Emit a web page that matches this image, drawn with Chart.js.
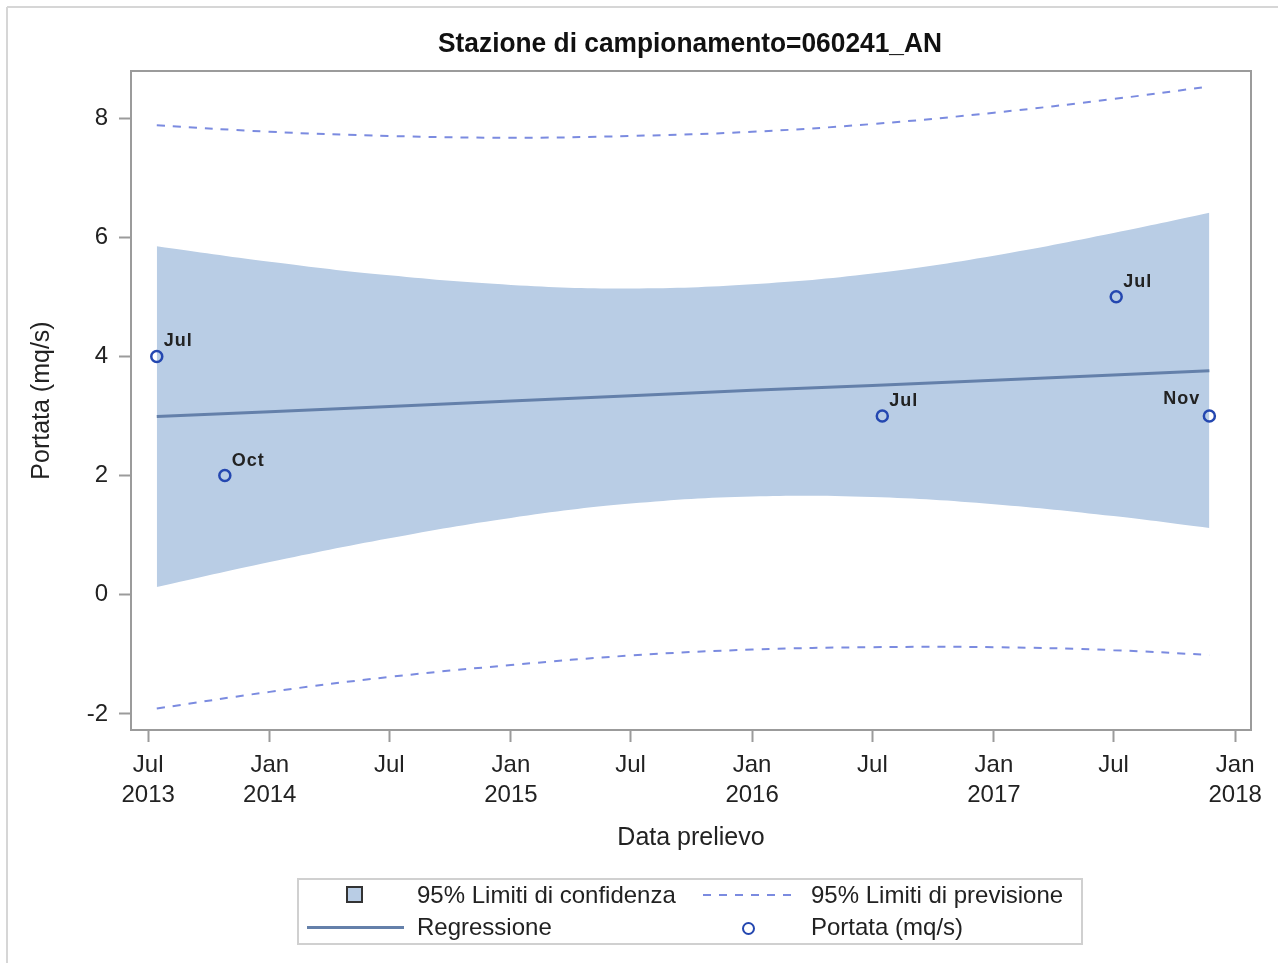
<!DOCTYPE html>
<html>
<head>
<meta charset="utf-8">
<title>Stazione di campionamento=060241_AN</title>
<script src="https://cdn.jsdelivr.net/npm/chart.js@4.4.1/dist/chart.umd.min.js"></script>
<style>
  body { margin: 0; background: #fff; font-family: 'Liberation Sans', Arial, sans-serif; color: #222; }
  #wrap { position: relative; width: 1278px; height: 963px; overflow: hidden; }
  canvas { position: absolute; left: 0; top: 0; }
  .abs { position: absolute; }
  .frame-top { left: 7px; top: 6px; width: 1271px; height: 2px; background: #d6d6d6; }
  .frame-left { left: 6px; top: 7px; width: 2px; height: 956px; background: #d6d6d6; }
  #title { left: 190px; top: 25px; width: 1000px; height: 36px; line-height: 36px; text-align: center;
           font-family: 'Liberation Sans', Arial, sans-serif;
           font-weight: bold; font-size: 28px; color: #111;
           transform: scaleX(0.94); transform-origin: 500px 50%; }
  #legend { left: 297px; top: 878px; width: 786px; height: 67px; border: 2px solid #d0d0d0; box-sizing: border-box; }
  .ltxt { font-size: 24px; height: 30px; line-height: 30px; white-space: nowrap; color: #222; }
</style>
</head>
<body>
<div id="wrap">
  <canvas id="myChart" width="1278" height="963"></canvas>
  <div class="abs frame-top"></div>
  <div class="abs frame-left"></div>
  <div class="abs" id="title">Stazione di campionamento=060241_AN</div>

  <div class="abs" id="legend"></div>
  <div class="abs" style="left:346px;top:886px;width:17px;height:17px;background:#b9cde5;border:2px solid #333;box-sizing:border-box;"></div>
  <div class="abs ltxt" style="left:417px;top:880px;">95% Limiti di confidenza</div>
  <div class="abs" style="left:703px;top:894px;width:90px;height:2px;background:repeating-linear-gradient(to right,#7b8be0 0 8px,transparent 8px 16px);"></div>
  <div class="abs ltxt" style="left:811px;top:880px;">95% Limiti di previsione</div>
  <div class="abs" style="left:307px;top:926px;width:97px;height:3px;background:#6480aa;"></div>
  <div class="abs ltxt" style="left:417px;top:912px;">Regressione</div>
  <div class="abs" style="left:742px;top:922px;width:13px;height:13px;border:2.5px solid #2447b0;border-radius:50%;box-sizing:border-box;"></div>
  <div class="abs ltxt" style="left:811px;top:912px;">Portata (mq/s)</div>
</div>

<script>
/* data */

const obsDates = ['2013-07-14', '2013-10-25', '2016-07-16', '2017-07-05', '2017-11-23'];
const obsValues = [4, 2, 3, 5, 3];
const obsLabels = ['Jul', 'Oct', 'Jul', 'Jul', 'Nov'];

const fitDates = ['2013-07-14', '2014-01-01', '2014-07-01', '2015-01-01', '2015-07-01',
  '2016-01-01', '2016-07-01', '2017-01-01', '2017-07-01', '2017-11-23'];
const fitValues = [2.99, 3.07, 3.16, 3.25, 3.34, 3.43, 3.51, 3.60, 3.69, 3.76];
const confLower = [0.13, 0.55, 0.95, 1.29, 1.53, 1.65, 1.64, 1.52, 1.32, 1.12];
const confUpper = [5.85, 5.59, 5.36, 5.20, 5.14, 5.21, 5.39, 5.69, 6.07, 6.41];
const predLower = [-1.91, -1.63, -1.38, -1.18, -1.02, -0.92, -0.88, -0.88, -0.93, -1.01];
const predUpper = [7.88, 7.77, 7.70, 7.67, 7.70, 7.77, 7.90, 8.09, 8.32, 8.53];

const xTickDates = ['2013-07-01', '2014-01-01', '2014-07-01', '2015-01-01', '2015-07-01',
  '2016-01-01', '2016-07-01', '2017-01-01', '2017-07-01', '2018-01-01'];
const xTickLabels = [['Jul', '2013'], ['Jan', '2014'], ['Jul'], ['Jan', '2015'], ['Jul'],
  ['Jan', '2016'], ['Jul'], ['Jan', '2017'], ['Jul'], ['Jan', '2018']];
const yTicks = [-2, 0, 2, 4, 6, 8];

const xMin = '2013-06-05';
const xMax = '2018-01-25';

function ms(d) {
  return Date.parse(d + 'T00:00:00Z');
}

function pts(dates, values) {
  return dates.map(function(d, i) {
    return {x: ms(d), y: values[i]};
  });
}

const axisGray = '#9b9b9b';

Chart.defaults.font.family = "'Liberation Sans', Arial, sans-serif";
Chart.defaults.color = '#222';

/* plot frame */
const framePlugin = {
  id: 'frame',
  afterDraw(chart) {
    const a = chart.chartArea;
    const ctx = chart.ctx;
    ctx.save();
    ctx.strokeStyle = axisGray;
    ctx.lineWidth = 2;
    ctx.strokeRect(a.left, a.top, a.right - a.left, a.bottom - a.top);
    ctx.restore();
  }
};

/* month labels next to the observations */
const pointLabels = {
  id: 'pointLabels',
  afterDatasetsDraw(chart) {
    const meta = chart.getDatasetMeta(4);
    const ctx = chart.ctx;
    const a = chart.chartArea;
    ctx.save();
    ctx.font = 'bold 18px "Liberation Sans", Arial, sans-serif';
    ctx.fillStyle = '#222';
    ctx.textBaseline = 'alphabetic';
    if ('letterSpacing' in ctx) ctx.letterSpacing = '1px';
    meta.data.forEach(function(el, i) {
      if (el.x > a.right - 60) {
        ctx.textAlign = 'right';
        ctx.fillText(obsLabels[i], el.x - 9, el.y - 12);
      } else {
        ctx.textAlign = 'left';
        ctx.fillText(obsLabels[i], el.x + 7, el.y - 10);
      }
    });
    ctx.restore();
  }
};

var ctx = document.getElementById('myChart').getContext('2d');

// eslint-disable-next-line no-undef
var chart = new Chart(ctx, {
  type: 'line',
  data: {
    datasets: [{
      label: '95% Limiti di confidenza (inf)',
      data: pts(fitDates, confLower),
      borderWidth: 0,
      pointRadius: 0,
      tension: 0.4,
      fill: false,
      order: 5
    },
    {
      label: '95% Limiti di confidenza',
      data: pts(fitDates, confUpper),
      borderWidth: 0,
      pointRadius: 0,
      tension: 0.4,
      backgroundColor: '#b9cde5',
      fill: '-1',
      order: 5
    },
    {
      label: '95% Limiti di previsione',
      data: pts(fitDates, predUpper),
      borderColor: '#7b8be0',
      borderWidth: 2,
      borderDash: [8, 8],
      pointRadius: 0,
      tension: 0.4,
      fill: false,
      order: 4
    },
    {
      label: 'Regressione',
      data: pts(fitDates, fitValues),
      borderColor: '#6480aa',
      borderWidth: 3,
      pointRadius: 0,
      tension: 0,
      fill: false,
      order: 2
    },
    {
      label: 'Portata (mq/s)',
      data: pts(obsDates, obsValues),
      showLine: false,
      pointStyle: 'circle',
      pointRadius: 5.5,
      pointBorderWidth: 2.5,
      pointBorderColor: '#2447b0',
      pointBackgroundColor: 'rgba(0,0,0,0)',
      fill: false,
      order: 1
    },
    {
      label: '95% Limiti di previsione (inf)',
      data: pts(fitDates, predLower),
      borderColor: '#7b8be0',
      borderWidth: 2,
      borderDash: [8, 8],
      pointRadius: 0,
      tension: 0.4,
      fill: false,
      order: 4
    }]
  },
  options: {
    responsive: false,
    animation: false,
    layout: {
      padding: {left: 20, top: 71, right: 27, bottom: 103}
    },
    plugins: {
      legend: {display: false},
      title: {display: false},
      tooltip: {enabled: false}
    },
    scales: {
      x: {
        type: 'linear',
        min: ms(xMin),
        max: ms(xMax),
        afterBuildTicks: function(scale) {
          scale.ticks = xTickDates.map(function(d) { return {value: ms(d)}; });
        },
        afterFit: function(scale) {
          scale.height = 130;
        },
        ticks: {
          autoSkip: false,
          maxRotation: 0,
          padding: 8,
          font: {size: 24, lineHeight: 1.25},
          color: '#222',
          callback: function(value) {
            const i = xTickDates.findIndex(function(d) { return ms(d) === value; });
            return i >= 0 ? xTickLabels[i] : '';
          }
        },
        grid: {
          drawOnChartArea: false,
          drawTicks: true,
          tickLength: 12,
          tickColor: axisGray,
          tickWidth: 2
        },
        border: {display: true, color: axisGray, width: 2},
        title: {
          display: true,
          text: 'Data prelievo',
          font: {size: 25, lineHeight: 1.2},
          color: '#222',
          padding: {top: 0, bottom: 7}
        }
      },
      y: {
        min: -2.27,
        max: 8.79,
        afterBuildTicks: function(scale) {
          scale.ticks = yTicks.map(function(v) { return {value: v}; });
        },
        afterFit: function(scale) {
          scale.width = 111;
        },
        ticks: {
          padding: 11,
          font: {size: 24},
          color: '#222',
          callback: function(value) { return String(value); }
        },
        grid: {
          drawOnChartArea: false,
          drawTicks: true,
          tickLength: 12,
          tickColor: axisGray,
          tickWidth: 2
        },
        border: {display: true, color: axisGray, width: 2},
        title: {
          display: true,
          text: 'Portata (mq/s)',
          font: {size: 25, lineHeight: 1.2},
          color: '#222',
          padding: {top: 7, bottom: 0}
        }
      }
    }
  },
  plugins: [framePlugin, pointLabels]
});
</script>
</body>
</html>
